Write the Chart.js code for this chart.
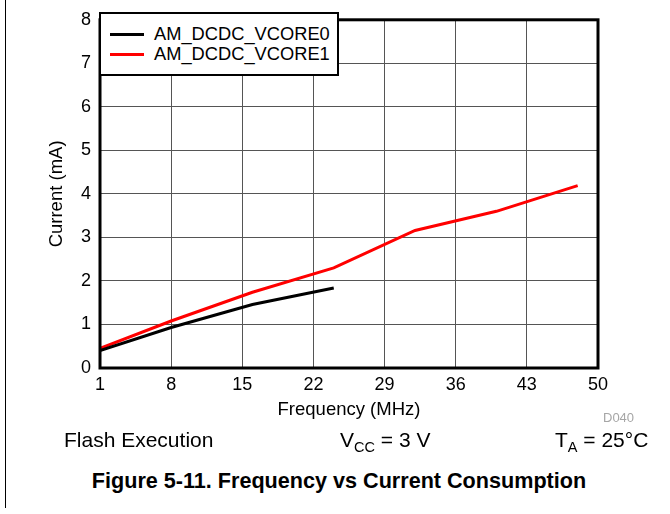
<!DOCTYPE html>
<html lang="en">
<head>
    <meta charset="UTF-8">
    <title>Frequency vs Current Consumption</title>
    <script src="https://cdn.jsdelivr.net/npm/chart.js"></script>
    <style>
        body { margin: 0; background: #fff; font-family: "Liberation Sans", Arial, sans-serif; color: #000; }
        #wrap { position: relative; width: 670px; height: 514px; overflow: hidden; }
        #chart { position: absolute; left: 0; top: 0; }
        .txt { position: absolute; white-space: nowrap; }
        #legend {
            position: absolute; left: 99px; top: 12px; width: 236px; height: 60px;
            border: 2.5px solid #000; background: #fff;
        }
        .leg-row { position: absolute; left: 0; height: 20px; }
        .leg-line { position: absolute; left: 9px; top: 9px; width: 34px; height: 3px; }
        .leg-text { position: absolute; left: 53px; top: 0; font-size: 18.3px; line-height: 20px; }
        sub { font-size: 14.5px; vertical-align: -5px; line-height: 0; }
    </style>
</head>
<body>
<div id="wrap">
    <div style="position:absolute; left:5px; top:0; width:1.3px; height:508px; background:#000;"></div>
    <canvas id="chart" width="670" height="430"></canvas>
    <div id="legend"></div>
    <div class="txt" style="left:603px; top:410px; font-size:13px; line-height:16px; color:#a6a6a6;">D040</div>
    <div class="txt" style="left:64px; top:428px; font-size:21px; line-height:24px;">Flash Execution</div>
    <div class="txt" style="left:340px; top:428px; font-size:21px; line-height:24px;">V<sub>CC</sub> = 3 V</div>
    <div class="txt" style="left:555px; top:428px; font-size:21px; line-height:24px;">T<sub>A</sub> = 25°C</div>
    <div class="txt" style="left:0; width:678px; text-align:center; top:468px; font-size:21.6px; line-height:26px; font-weight:bold;">Figure 5-11. Frequency vs Current Consumption</div>
</div>

<script>
    // Data
    const xTicks = [1, 8, 15, 22, 29, 36, 43, 50];
    const yTicks = [0, 1, 2, 3, 4, 5, 6, 7, 8];
    const freqVcore0 = [1, 8, 16, 24];
    const currVcore0 = [0.40, 0.93, 1.46, 1.84];
    const freqVcore1 = [1, 8, 16, 24, 32, 40, 48];
    const currVcore1 = [0.45, 1.08, 1.74, 2.30, 3.16, 3.60, 4.19];
    const seriesNames = ['AM_DCDC_VCORE0', 'AM_DCDC_VCORE1'];
    const seriesColors = ['#000000', '#ff0000'];

    const toPoints = (xs, ys) => xs.map((x, i) => ({ x: x, y: ys[i] }));

    // Legend box (top-left inside plot)
    const legend = document.getElementById('legend');
    seriesNames.forEach((name, i) => {
        legend.innerHTML += `<div class="leg-row" style="top:${10 + i * 20}px; width:100%;">
            <div class="leg-line" style="background:${seriesColors[i]}"></div>
            <div class="leg-text">${name}</div></div>`;
    });

    // Thick frame around the plot area
    const framePlugin = {
        id: 'frame',
        afterDraw(chart) {
            const a = chart.chartArea;
            const c = chart.ctx;
            c.save();
            c.strokeStyle = '#000';
            c.lineWidth = 3;
            c.strokeRect(a.left, a.top, a.right - a.left, a.bottom - a.top);
            c.restore();
        }
    };

    const tickFont = { family: '"Liberation Sans", Arial, sans-serif', size: 18 };
    const titleFont = { family: '"Liberation Sans", Arial, sans-serif', size: 18.5 };

    new Chart(document.getElementById('chart'), {
        type: 'line',
        data: {
            datasets: [{
                label: seriesNames[0],
                data: toPoints(freqVcore0, currVcore0),
                borderColor: seriesColors[0],
                borderWidth: 3,
                pointRadius: 0,
                tension: 0
            }, {
                label: seriesNames[1],
                data: toPoints(freqVcore1, currVcore1),
                borderColor: seriesColors[1],
                borderWidth: 3,
                pointRadius: 0,
                tension: 0
            }]
        },
        options: {
            responsive: false,
            animation: false,
            layout: { padding: { left: 0, right: 72, top: 13, bottom: 0 } },
            plugins: { legend: { display: false }, tooltip: { enabled: false } },
            scales: {
                x: {
                    type: 'linear', min: 1, max: 50,
                    afterBuildTicks: s => { s.ticks = xTicks.map(v => ({ value: v })); },
                    afterFit: s => { s.height = 62; },
                    grid: { color: '#555', lineWidth: 1, drawTicks: false },
                    border: { display: false },
                    ticks: { color: '#000', font: tickFont, padding: 6, maxRotation: 0 },
                    title: { display: true, text: 'Frequency (MHz)', color: '#000', font: titleFont, padding: { top: 0, bottom: 9 } }
                },
                y: {
                    min: 0, max: 8,
                    afterBuildTicks: s => { s.ticks = yTicks.map(v => ({ value: v })); },
                    afterFit: s => { s.width = 100; },
                    grid: { color: '#555', lineWidth: 1, drawTicks: false },
                    border: { display: false },
                    ticks: { color: '#000', font: tickFont, padding: 9 },
                    title: { display: true, text: 'Current (mA)', color: '#000', font: titleFont, padding: { top: 46, bottom: 0 } }
                }
            }
        },
        plugins: [framePlugin]
    });
</script>
</body>
</html>
